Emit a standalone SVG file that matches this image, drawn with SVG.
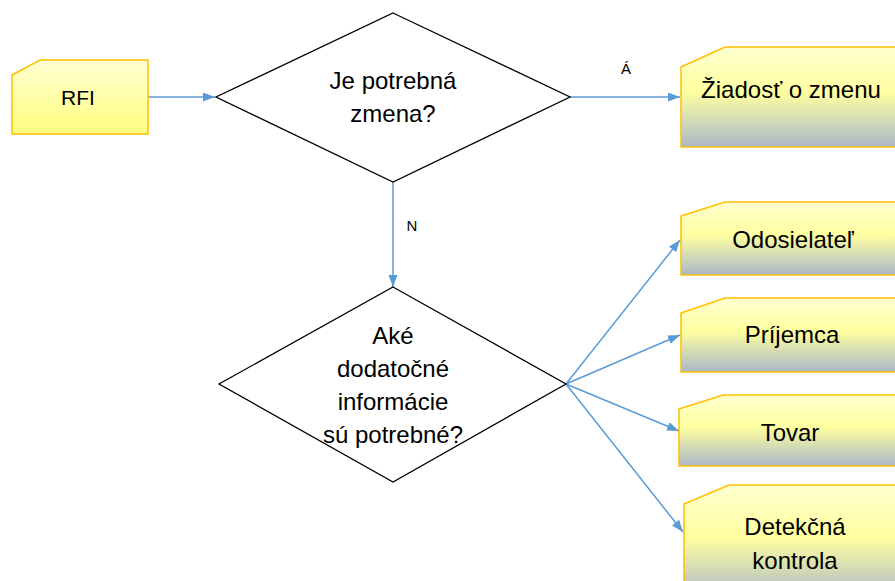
<svg xmlns="http://www.w3.org/2000/svg" width="895" height="581" viewBox="0 0 895 581">
<defs>
<linearGradient id="gRfi" x1="0" y1="0" x2="0" y2="1">
<stop offset="0" stop-color="#FFFFD2"/>
<stop offset="1" stop-color="#FFFF80"/>
</linearGradient>
<linearGradient id="gBox" x1="0" y1="0" x2="0" y2="1">
<stop offset="0" stop-color="#FFFFD0"/>
<stop offset="0.45" stop-color="#FFFFA0"/>
<stop offset="1" stop-color="#AAB8C8"/>
</linearGradient>
<marker id="arr" markerUnits="userSpaceOnUse" markerWidth="13" markerHeight="10" refX="12" refY="4.5" orient="auto">
<path d="M0,0 L12,4.5 L0,9 z" fill="#5B9BD5"/>
</marker>
<style>
.box{stroke:#FFC000;stroke-width:1.5;fill:url(#gBox)}
.rfi{stroke:#FFC000;stroke-width:1.5;fill:url(#gRfi)}
.dia{fill:#FFFFFF;stroke:#000000;stroke-width:1.3}
.t{font-family:"Liberation Sans",Arial,sans-serif;font-size:24px;fill:#000;text-anchor:middle}
.lbl{font-family:"Liberation Sans",Arial,sans-serif;font-size:15px;fill:#000;text-anchor:middle}
.c{stroke:#5B9BD5;stroke-width:1.5;fill:none;marker-end:url(#arr)}
</style>
</defs>
<g id="connectors">
<line class="c" x1="148" y1="97" x2="215" y2="97"/>
<line class="c" x1="570" y1="97" x2="680" y2="97"/>
<line class="c" x1="393" y1="182" x2="393" y2="287"/>
<line class="c" x1="566" y1="384" x2="680" y2="240"/>
<line class="c" x1="566" y1="384" x2="680" y2="335"/>
<line class="c" x1="566" y1="384" x2="679" y2="431"/>
<line class="c" x1="566" y1="384" x2="683" y2="532"/>
<text class="lbl" x="626" y="74">Á</text>
<text class="lbl" x="412" y="231">N</text>
</g>
<g id="rfi">
<path class="rfi" d="M12,75 L40,60 L148,60 L148,134 L12,134 Z"/>
<text class="t" x="78" y="105" style="font-size:21px">RFI</text>
</g>
<g id="decision1">
<polygon class="dia" points="393,13 570,97 393,182 216,97"/>
<text class="t" x="393" y="89">Je potrebná</text>
<text class="t" x="393" y="122">zmena?</text>
</g>
<g id="request">
<path class="box" d="M681,67 L725,47 L905,47 L905,147 L681,147 Z"/>
<text class="t" x="791" y="98">Žiadosť o zmenu</text>
</g>
<g id="decision2">
<polygon class="dia" points="393,287 566,384 393,482 219,384"/>
<text class="t" x="393" y="344">Aké</text>
<text class="t" x="393" y="377">dodatočné</text>
<text class="t" x="393" y="410">informácie</text>
<text class="t" x="393" y="443">sú potrebné?</text>
</g>
<g id="sender">
<path class="box" d="M681,216 L725,202 L905,202 L905,275 L681,275 Z"/>
<text class="t" x="793" y="248">Odosielateľ</text>
</g>
<g id="recipient">
<path class="box" d="M681,313 L725,298 L905,298 L905,372 L681,372 Z"/>
<text class="t" x="792" y="343">Príjemca</text>
</g>
<g id="goods">
<path class="box" d="M679,409 L723,395 L905,395 L905,466 L679,466 Z"/>
<text class="t" x="790" y="441">Tovar</text>
</g>
<g id="detection">
<path class="box" d="M684,504 L729,485 L905,485 L905,600 L684,600 Z"/>
<text class="t" x="795" y="535">Detekčná</text>
<text class="t" x="795" y="569">kontrola</text>
</g>
</svg>
